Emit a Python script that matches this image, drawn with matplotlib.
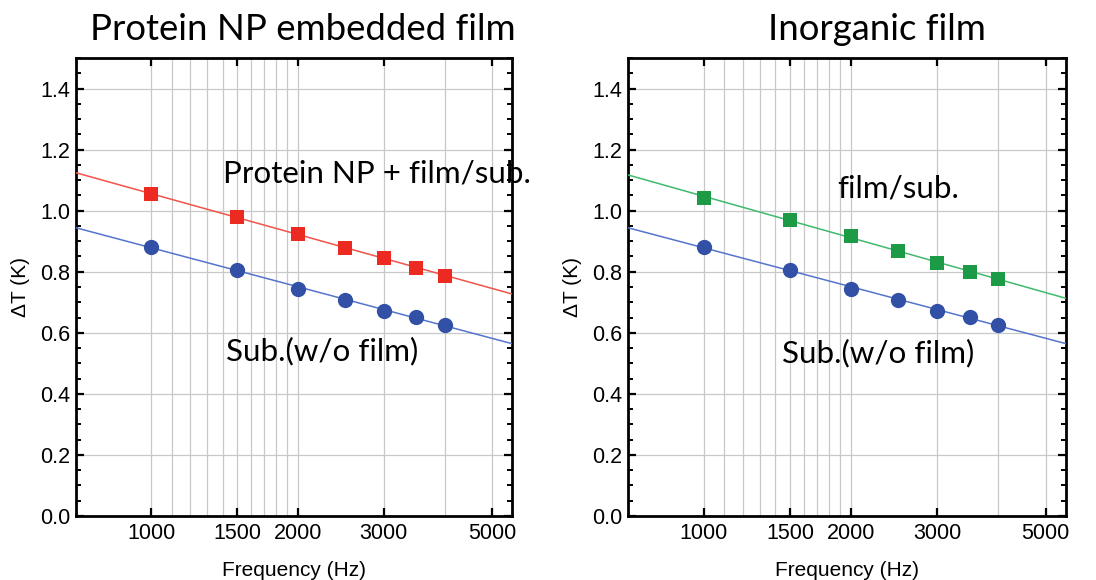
import numpy as np
import matplotlib
matplotlib.use("Agg")
import matplotlib.pyplot as plt
from matplotlib.ticker import FixedLocator, FixedFormatter, MultipleLocator, NullLocator

# Measurement frequencies (Hz)
freq = [1000, 1500, 2000, 2500, 3000, 3500, 4000]

# Temperature oscillation amplitude (K)
dT_substrate = [0.880, 0.806, 0.745, 0.709, 0.673, 0.651, 0.625]
dT_protein_film = [1.054, 0.978, 0.923, 0.879, 0.846, 0.813, 0.787]
dT_inorganic_film = [1.043, 0.971, 0.916, 0.867, 0.830, 0.800, 0.775]

xtick_values = [1000, 1500, 2000, 3000, 5000]
xtick_labels = ["1000", "1500", "2000", "3000", "5000"]
grid_values = [1000, 1100, 1200, 1300, 1400, 1500, 1600, 1700, 1800, 1900,
               2000, 3000, 4000, 5000]
ygrid_values = [0.2, 0.4, 0.6, 0.8, 1.0, 1.2, 1.4]

titles = ["Protein NP embedded film", "Inorganic film"]
film_labels = ["Protein NP + film/sub.", "film/sub."]
sub_label = "Sub.(w/o film)"

RED_M, RED_L = "#ec2a22", "#f2544a"
BLUE_M, BLUE_L = "#3251a6", "#5574cc"
GREEN_M, GREEN_L = "#1c9a46", "#3fba6c"

W, H = 1096, 580
plt.rcParams["font.family"] = ["Liberation Sans", "DejaVu Sans"]
CAPTION_FONT = ["Lato", "DejaVu Sans"]

fig = plt.figure(figsize=(W / 100, H / 100), dpi=100)
ax_pos = [[76 / W, 1 - 516 / H, 436 / W, 458 / H],
          [628 / W, 1 - 516 / H, 438 / W, 458 / H]]

XMIN, XMAX = 700, 5500


def px(x, y):
    return x / W, 1 - y / H


def fit_line(ax, x, y, color):
    coef = np.polyfit(np.log10(x), y, 1)
    xs = np.logspace(np.log10(XMIN), np.log10(XMAX), 200)
    ax.plot(xs, np.polyval(coef, np.log10(xs)), color=color, lw=1.1, zorder=3)


def style_axes(ax):
    ax.set_xscale("log")
    ax.set_xlim(XMIN, XMAX)
    ax.set_ylim(0, 1.5)
    ax.xaxis.set_major_locator(FixedLocator(xtick_values))
    ax.xaxis.set_major_formatter(FixedFormatter(xtick_labels))
    ax.xaxis.set_minor_locator(NullLocator())
    ax.yaxis.set_major_locator(MultipleLocator(0.2))
    ax.yaxis.set_minor_locator(MultipleLocator(0.05))
    ax.yaxis.set_major_formatter(matplotlib.ticker.FormatStrFormatter("%.1f"))
    for g in grid_values:
        ax.axvline(g, color="#c8c8c8", lw=0.9, zorder=0)
    for g in ygrid_values:
        ax.axhline(g, color="#c8c8c8", lw=0.9, zorder=0)
    ax.tick_params(axis="x", which="major", direction="in", length=6, width=1.6,
                   top=True, bottom=True, labelsize=15.5, pad=5)
    ax.tick_params(axis="y", which="major", direction="in", length=6, width=1.6,
                   left=True, right=True, labelsize=15.5, pad=4)
    ax.tick_params(axis="y", which="minor", direction="in", length=3.5, width=1.4,
                   left=True, right=True)
    for s in ax.spines.values():
        s.set_linewidth(2.0)
    ax.set_xlabel("Frequency (Hz)", fontsize=15, labelpad=12)
    ax.set_ylabel("ΔT (K)", fontsize=15, labelpad=7)


film_series = [dT_protein_film, dT_inorganic_film]
film_colors = [(RED_M, RED_L), (GREEN_M, GREEN_L)]
film_text_px = [(377, 173), (898, 189)]
sub_text_px = [(322, 351), (878, 353)]
title_px = [(303, 30), (877, 30)]

for i in range(2):
    ax = fig.add_axes(ax_pos[i])
    style_axes(ax)
    mc, lc = film_colors[i]
    fit_line(ax, freq, film_series[i], lc)
    fit_line(ax, freq, dT_substrate, BLUE_L)
    ax.plot(freq, film_series[i], ls="none", marker="s", ms=9.5, color=mc,
            markeredgewidth=0, zorder=4)
    ax.plot(freq, dT_substrate, ls="none", marker="o", ms=11, color=BLUE_M,
            markeredgewidth=0, zorder=4)
    fig.text(*px(*film_text_px[i]), film_labels[i], ha="center", va="center",
             fontsize=22.6, family=CAPTION_FONT)
    fig.text(*px(*sub_text_px[i]), sub_label, ha="center", va="center",
             fontsize=22.6, family=CAPTION_FONT)
    fig.text(*px(*title_px[i]), titles[i], ha="center", va="center",
             fontsize=26.3, family=CAPTION_FONT)

fig.savefig("out.png", dpi=100)
